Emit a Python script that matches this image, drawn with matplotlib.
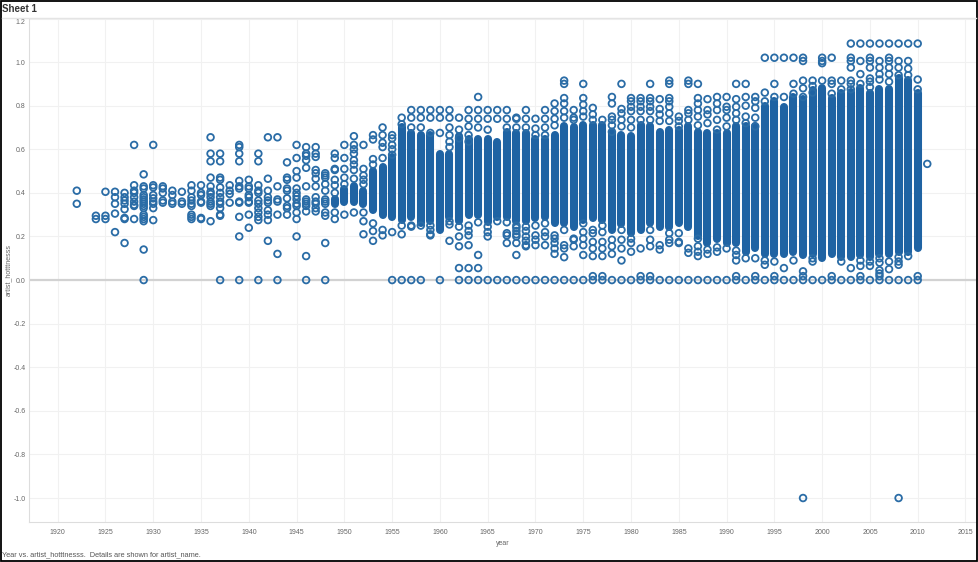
import matplotlib
matplotlib.use('Agg')
import matplotlib.pyplot as plt
import numpy as np
from matplotlib.patches import Rectangle

plt.rcParams['font.family'] = ['Liberation Sans', 'DejaVu Sans']

BLUE = '#2a6ca6'
FILL = '#1f63a3'
GREY = '#666666'

# years where the marks pile up into a solid column, with the column's ends
band_years = list(range(1949, 2011))
band_high = [.37, .42, .43, .41, .50, .52, .565, .70, .675, .665, .665, .58, .58, .66, .645, .645,
             .645, .635, .68, .675, .675, .645, .645, .665, .705, .70, .71, .71, .71, .675, .665,
             .66, .71, .705, .68, .69, .69, .705, .68, .675, .675, .675, .705, .705, .705, .80,
             .82, .795, .84, .83, .87, .88, .835, .86, .865, .88, .86, .875, .875, .925, .92, .86]
band_low = [.35, .36, .36, .35, .32, .30, .29, .275, .29, .26, .27, .23, .29, .27, .30, .30,
            .265, .29, .29, .27, .27, .285, .29, .26, .26, .245, .275, .285, .275, .23, .255,
            .215, .23, .26, .245, .245, .26, .245, .20, .17, .19, .17, .17, .13, .145, .12,
            .12, .12, .13, .115, .12, .10, .12, .105, .105, .115, .105, .12, .12, .13, .13, .145]

# single artists that can be told apart, per year
point_years = list(range(1922, 2012))
point_years = [y for y in point_years if y != 1923]
point_values = [
    [.41, .35],
    [.295, .28],
    [.405, .295, .28],
    [.405, .38, .35, .305, .22],
    [.40, .38, .365, .35, .325, .285, .28, .17],
    [.62, .435, .41, .40, .38, .36, .345, .34, .28],
    [.485, .43, .42, .39, .38, .37, .36, .35, .34, .33, .30, .29, .28, .27, .14],
    [.62, .435, .425, .39, .375, .36, .35, .33, .275],
    [.43, .42, .40, .365, .355],
    [.41, .39, .36, .35],
    [.405, .36, .35],
    [.435, .41, .38, .365, .35, .34, .30, .29, .28],
    [.435, .40, .39, .36, .355, .285, .28],
    [.655, .58, .545, .47, .43, .405, .395, .38, .36, .35, .34, .27],
    [.58, .545, .47, .46, .425, .40, .38, .36, .35, .33, .30, .295],
    [.435, .41, .395, .355],
    [.62, .61, .58, .545, .455, .43, .42, .36, .355, .29, .20],
    [.46, .43, .42, .39, .38, .36, .355, .30, .24],
    [.58, .545, .435, .41, .40, .365, .35, .33, .31, .29, .275],
    [.655, .465, .41, .38, .365, .355, .32, .30, .275, .18],
    [.655, .43, .37, .36, .30, .12],
    [.54, .47, .46, .42, .41, .375, .34, .33, .30],
    [.62, .56, .50, .47, .42, .40, .385, .37, .35, .34, .31, .28, .20],
    [.61, .58, .57, .55, .515, .43, .37, .36, .35, .34, .315, .11],
    [.61, .58, .565, .505, .49, .465, .43, .38, .36, .35, .33, .315],
    [.49, .48, .47, .44, .41, .37, .36, .35, .31, .295, .17],
    [.58, .56, .51, .505, .46, .435, .40, .31, .28],
    [.62, .56, .51, .47, .44, .30],
    [.66, .62, .60, .58, .55, .53, .505, .465, .31],
    [.62, .51, .48, .46, .44, .31, .27, .21],
    [.665, .645, .555, .53, .26, .225, .18],
    [.70, .665, .63, .61, .56, .23, .205],
    [.665, .65, .62, .60, .575, .22],
    [.745, .715, .25, .21],
    [.78, .745, .70, .25, .245],
    [.78, .745, .70, .25],
    [.78, .745, .675, .25, .23, .21, .205],
    [.78, .745, .675],
    [.78, .745, .70, .665, .635, .61, .27, .255, .18],
    [.745, .69, .65, .245, .20, .155, .055],
    [.78, .74, .705, .665, .635, .25, .225, .205, .16, .055],
    [.84, .78, .74, .70, .265, .115, .055],
    [.78, .74, .69, .245, .22, .20],
    [.78, .74, .27],
    [.78, .74, .70, .265, .215, .205, .17],
    [.745, .74, .70, .25, .24, .225, .21, .20, .17, .115],
    [.78, .74, .70, .245, .225, .20, .18, .16, .155],
    [.74, .695, .665, .25, .205, .185, .16],
    [.78, .74, .70, .665, .26, .22, .20, .16],
    [.81, .775, .74, .71, .205, .19, .17, .145, .12],
    [.915, .90, .835, .81, .775, .745, .23, .16, .145, .105],
    [.78, .745, .735, .19, .185, .155],
    [.90, .835, .805, .775, .75, .26, .22, .19, .16, .115],
    [.79, .76, .735, .23, .215, .175, .145, .11],
    [.735, .25, .22, .175, .145, .11],
    [.84, .81, .75, .735, .71, .68, .185, .155, .12],
    [.90, .785, .765, .735, .705, .23, .185, .145, .09],
    [.835, .82, .795, .775, .735, .70, .19, .17, .13],
    [.835, .82, .795, .775, .735, .145],
    [.90, .835, .82, .795, .775, .735, .23, .185, .155],
    [.83, .785, .76, .73, .16, .14],
    [.915, .90, .835, .82, .795, .765, .73, .215, .185, .17],
    [.75, .73, .705, .215, .175, .17],
    [.915, .90, .78, .765, .735, .145, .125],
    [.90, .835, .81, .78, .75, .71, .19, .155, .13, .11],
    [.83, .78, .76, .72, .14, .12],
    [.84, .81, .78, .735, .69, .15, .13],
    [.84, .795, .78, .745, .705, .145],
    [.90, .83, .795, .765, .735, .135, .115, .09],
    [.90, .84, .80, .75, .72, .10],
    [.84, .82, .79, .745, .705, .10],
    [1.02, .86, .82, .09, .07],
    [1.02, .90, .84, .085],
    [1.02, .84, .055],
    [1.02, .90, .855, .09],
    [1.02, 1.005, .915, .88, .84, .04],
    [.915, .89, .86, .10, .085],
    [1.02, 1.005, .995, .915],
    [1.02, .915, .90, .855],
    [.915, .875, .085],
    [1.085, 1.02, 1.005, .975, .915, .90, .875, .055],
    [1.085, 1.005, .945, .90, .09, .065],
    [1.085, 1.02, 1.005, .975, .925, .91, .885, .085, .065],
    [1.085, 1.005, .975, .945, .92, .10, .08, .045, .03],
    [1.085, 1.02, 1.005, .975, .945, .91, .085, .05],
    [1.085, 1.005, .975, .94, .105, .085, .07],
    [1.085, 1.005, .97, .94, .11],
    [1.085, .92, .875],
    [.533],
]

# artists with a hotttnesss of exactly 0, a few just above it, and the -1 outliers
zero_years = [1929, 1937, 1939, 1941, 1943, 1946, 1948, 1955, 1956, 1957, 1958, 1960] + list(range(1962, 2011))
near_zero_years = [1976, 1977, 1981, 1982, 1991, 1993, 1995, 1998, 2001, 2004, 2006, 2010]
near_zero_value = 0.018
negative_years = [1998, 2008]
negative_values = [-1.0, -1.0]

x_ticks = list(range(1920, 2016, 5))
y_ticks = [-1.0, -0.8, -0.6, -0.4, -0.2, 0.0, 0.2, 0.4, 0.6, 0.8, 1.0, 1.2]

fig = plt.figure(figsize=(9.79, 5.62), dpi=100)
ax = fig.add_axes([29 / 979, 1 - 522 / 562, (976 - 29) / 979, (522 - 18.5) / 562])

ax.set_xlim(1917, 2016.1)
ax.set_ylim(-1.11, 1.2)
ax.set_xticks(x_ticks)
ax.set_yticks(y_ticks)
ax.set_yticklabels(['%.1f' % v for v in y_ticks])
ax.get_yticklabels()[-1].set_va('top')
ax.grid(True, color='#f1f1f1', linewidth=0.8)
ax.set_axisbelow(True)
ax.tick_params(length=0, labelsize=5, labelcolor=GREY)
ax.tick_params(axis='x', pad=5)
ax.tick_params(axis='y', pad=2.5)
for name in ['top', 'right']:
    ax.spines[name].set_visible(False)
for name in ['left', 'bottom']:
    ax.spines[name].set_color('#dddddd')
    ax.spines[name].set_linewidth(0.8)
ax.axhline(0, color='#d2d2d2', linewidth=1.6, zorder=1)

ax.vlines(band_years, band_low, band_high, color=FILL, linewidth=5.8, capstyle='round', zorder=3)

xs = [y for y, vals in zip(point_years, point_values) for v in vals]
ys = [v for vals in point_values for v in vals]
marker = dict(marker='o', s=23, facecolors='none', edgecolors=BLUE, linewidths=1.3, zorder=4)
ax.scatter(xs, ys, **marker)
ax.scatter(zero_years, np.zeros(len(zero_years)), **marker)
ax.scatter(near_zero_years, [near_zero_value] * len(near_zero_years), **marker)
ax.scatter(negative_years, negative_values, **marker)

ax.set_xlabel('year', fontsize=5, color=GREY, labelpad=3)
ax.set_ylabel('artist_hotttnesss', fontsize=5, color=GREY, labelpad=1)

fig.text(2.5 / 979, 1 - 9.5 / 562, 'Sheet 1', fontsize=7, fontweight='bold', color='#333333', va='center')
fig.text(2.5 / 979, 1 - 555 / 562, 'Year vs. artist_hotttnesss.  Details are shown for artist_name.',
         fontsize=5.3, color='#555555', va='center')

# header rule and the window frame around the sheet
fig.add_artist(plt.Line2D([2 / 979, 976 / 979], [1 - 18 / 562] * 2, color='#e4e4e4', linewidth=1))
fig.add_artist(Rectangle((1 / 979, 1 / 562), 976.5 / 979, 560 / 562, fill=False,
                         edgecolor='black', linewidth=1.3))

fig.savefig('out.png', dpi=100)
